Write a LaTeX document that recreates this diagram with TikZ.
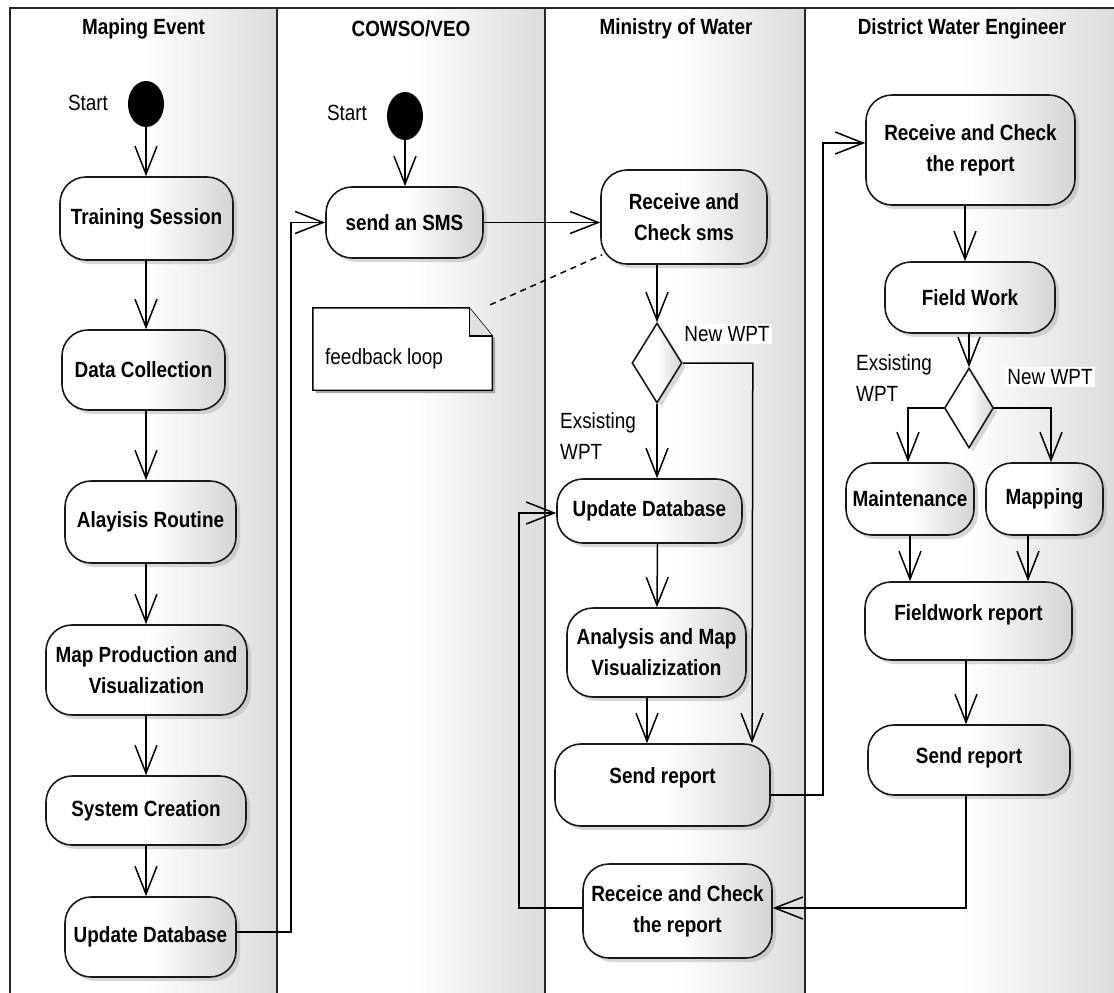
\documentclass[tikz,border=0pt]{standalone}
\usepackage{fontspec}
\setmainfont{Liberation Sans}[FakeStretch=0.86]
\usetikzlibrary{arrows.meta,shapes.geometric,shadows}
\newcommand\diagfont{\fontsize{22}{31}\selectfont}
\newcommand\lifted[2]{\raisebox{#1}[\height][\depth]{#2}}
\begin{document}
\begin{tikzpicture}[x=1pt,y=-1pt,
  lane/.style={left color=white, right color=black!14, middle color=white},
  laneline/.style={line width=2.4pt, draw=black!85},
  title/.style={font=\diagfont\bfseries},
  wh/.style 2 args={minimum width=#1pt, minimum height=#2pt},
  act/.style={draw=black!90, line width=1.6pt, rounded corners=26pt,
    left color=white, right color=black!17, middle color=white,
    drop shadow={shadow xshift=4pt, shadow yshift=-4pt, fill=black!30},
    font=\diagfont\bfseries, align=center, inner sep=0pt},
  decide/.style={diamond, draw=black!90, line width=1.6pt,
    left color=white, right color=black!17, middle color=white,
    drop shadow={shadow xshift=4pt, shadow yshift=-4pt, fill=black!30},
    inner sep=0pt, minimum width=50pt, minimum height=80pt},
  startdot/.style={ellipse, fill=black, inner sep=0pt, minimum width=36pt, minimum height=46pt},
  plain/.style={font=\diagfont, inner sep=1pt},
  guard/.style={font=\diagfont, inner sep=2pt, fill=white},
  flow/.style={line width=1.5pt, -{Straight Barb[length=28pt,width=22pt]}},
  link/.style={line width=1.5pt},
]
\useasboundingbox (0,0) rectangle (1114,993);
\clip (0,0) rectangle (1114,993);

% swimlanes
\shade[lane] (10,8) rectangle (277,1000);
\shade[lane] (277,8) rectangle (545,1000);
\shade[lane] (545,8) rectangle (805,1000);
\shade[lane] (805,8) rectangle (1118,1000);
\draw[laneline] (10,1000) -- (10,8) -- (1118,8);
\draw[laneline] (277,8) -- (277,1000);
\draw[laneline] (545,8) -- (545,1000);
\draw[laneline] (805,8) -- (805,1000);

\node[title] (t1) at (143.5,29) {Maping Event};
\node[title] (t2) at (411,29) {COWSO/VEO};
\node[title] (t3) at (676,29) {Ministry of Water};
\node[title] (t4) at (962,29) {District Water Engineer};

% lane 1: mapping event
\node[startdot] (s1) at (146,104) {};
\node[plain] (s1lbl) at (88,103) {Start};
\node[act, wh={173}{83}] (ts) at (146.5,218.5) {Training Session};
\node[act, wh={163}{80}] (dc) at (143.5,370) {Data Collection};
\node[act, wh={171}{82}] (ar) at (150.5,522) {Alayisis Routine};
\node[act, wh={201}{90}] (mp) at (146.5,670) {Map Production and\\Visualization};
\node[act, wh={200}{69}] (sc) at (146,810.5) {System Creation};
\node[act, wh={171}{80}] (ud1) at (150.5,937) {Update Database};

% lane 2: COWSO/VEO
\node[startdot, minimum height=48pt] (s2) at (405,116) {};
\node[plain] (s2lbl) at (347,113) {Start};
\node[act, wh={157}{71}] (sms) at (404.5,222.5) {send an SMS};
\node[wh={179}{82}, inner sep=0pt] (note) at (402.5,349) {};
\fill[black!35] ([xshift=3pt,yshift=-3pt]note.north west) -- ([xshift=-20pt,yshift=-3pt]note.north east)
  -- ([xshift=3pt,yshift=-31pt]note.north east) -- ([xshift=3pt,yshift=-3pt]note.south east)
  -- ([xshift=3pt,yshift=-3pt]note.south west) -- cycle;
\draw[line width=1.4pt, fill=white] (note.north west) -- ([xshift=-23pt]note.north east)
  -- ([yshift=-28pt]note.north east) -- (note.south east) -- (note.south west) -- cycle;
\draw[line width=1.4pt, fill=black!12] ([xshift=-23pt]note.north east)
  -- ([xshift=-23pt,yshift=-28pt]note.north east) -- ([yshift=-28pt]note.north east);
\node[plain, anchor=west] (notetxt) at (324,359) {feedback loop};

% lane 3: ministry of water
\node[act, wh={166}{94}] (rcs) at (684,217) {Receive and\\Check sms};
\node[decide] (d1) at (657,363) {};
\node[guard] (g1) at (727,334) {New WPT};
\node[plain, align=left, anchor=west] (g2) at (559,436) {Exsisting\\WPT};
\node[act, wh={185}{64}] (ud3) at (649.5,511) {Update Database};
\node[act, wh={179}{89}] (amv) at (656.5,652.5) {Analysis and Map\\Visualizization};
\node[act, wh={215}{82}] (sr3) at (662.5,785) {\lifted{7pt}{Send report}};
\node[act, wh={189}{94}] (rcr3) at (677.5,911) {Receice and Check\\the report};

% lane 4: district water engineer
\node[act, wh={209}{110}] (rcr4) at (970.5,150) {Receive and Check\\the report};
\node[act, wh={170}{71}] (fw) at (970,297.5) {Field Work};
\node[decide, minimum width=49pt] (d2) at (969,408) {};
\node[plain, align=left, anchor=west] (g3) at (855,378) {Exsisting\\WPT};
\node[guard] (g4) at (1050,377) {New WPT};
\node[act, wh={128}{72}] (mt) at (910,499) {Maintenance};
\node[act, wh={117}{72}] (mpg) at (1044.5,499) {Mapping};
\node[act, wh={207}{78}] (fr) at (968.5,621) {\lifted{6pt}{Fieldwork report}};
\node[act, wh={202}{70}] (sr4) at (969,760) {\lifted{2pt}{Send report}};

% lane 1 flow
\draw[flow] (s1.south) -- (ts.north -| s1);
\draw[flow] (ts.south -| s1) -- (dc.north -| s1);
\draw[flow] (dc.south -| s1) -- (ar.north -| s1);
\draw[flow] (ar.south -| s1) -- (mp.north -| s1);
\draw[flow] (mp.south -| s1) -- (sc.north -| s1);
\draw[flow] (sc.south -| s1) -- (ud1.north -| s1);
\draw[flow] ([yshift=5pt]ud1.east) -- ++(54,0) |- (sms.west);

% lane 2 flow
\draw[flow] (s2.south) -- (sms.north -| s2);
\draw[flow] (sms.east) -- (sms.east -| rcs.west);
\draw[link, dash pattern=on 6pt off 5pt] ([xshift=-2pt,yshift=3pt]note.north east) -- ([xshift=2pt,yshift=10pt]rcs.south west);

% lane 3 flow
\draw[flow] (rcs.south -| d1) -- (d1.north);
\draw[flow] (d1.south) -- (d1.south |- ud3.north);
\draw[flow] (d1.east) -- ++(70,0) -- ([xshift=89.5pt]sr3.north);
\draw[flow] ([xshift=0.5pt]ud3.south -| d1) -- (amv.north -| d1);
\draw[flow] ([xshift=-9.5pt]amv.south) -- ([xshift=-15.5pt]sr3.north);
\draw[flow] ([yshift=-10pt]sr3.east) -- ++(52,0) |- ([yshift=7pt]rcr4.west);
\draw[flow] ([yshift=3pt]rcr3.west) -- ++(-63,0) |- ([yshift=-2pt]ud3.west);

% lane 4 flow
\draw[flow] ([xshift=-5.5pt]rcr4.south) -- ([xshift=-5.5pt]rcr4.south |- fw.north);
\draw[flow] (fw.south -| d2) -- (d2.north);
\draw[flow] (d2.west) -| ([xshift=-2pt]mt.north);
\draw[flow] (d2.east) -| ([xshift=6.5pt]mpg.north);
\draw[flow] (mt.south) -- (mt.south |- fr.north);
\draw[flow] ([xshift=-16.5pt]mpg.south) -- ([xshift=-16.5pt]mpg.south |- fr.north);
\draw[flow] ([xshift=-2.5pt]fr.south) -- ([xshift=-2.5pt]fr.south |- sr4.north);
\draw[flow] ([xshift=-3pt]sr4.south) |- ([yshift=3pt]rcr3.east);
\end{tikzpicture}
\end{document}
